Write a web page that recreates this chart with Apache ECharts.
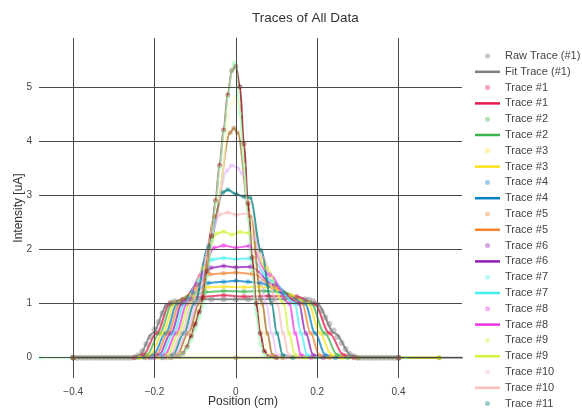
<!DOCTYPE html>
<html>
<head>
<meta charset="utf-8">
<script src="https://cdn.jsdelivr.net/npm/echarts@6/dist/echarts.min.js"></script>
<style>html,body{margin:0;padding:0;background:#fff}#c{width:582px;height:410px}</style>
</head>
<body>
<div id="c"></div>
<script>
// ---- data ----
const xTicks = [-0.4, -0.2, 0, 0.2, 0.4];
const yTicks = [0, 1, 2, 3, 4, 5];

const traceNames = ['Trace #1','Trace #2','Trace #3','Trace #4','Trace #5','Trace #6','Trace #7','Trace #8','Trace #9','Trace #10','Trace #11','Trace #12','Trace #13','Trace #14','Trace #15','Trace #16','Trace #17'];
const traceColors = ['#e6194b','#3cb44b','#ffe119','#0082c8','#f58231','#911eb4','#46f0f0','#f032e6','#d2f53c','#fabebe','#008080','#e6beff','#aa6e28','#fffac8','#800000','#aaffc3','#808000'];

const rawTrace1 = [[-0.40,0],[-0.39,0],[-0.38,0],[-0.37,0],[-0.36,0],[-0.35,0],[-0.34,0],[-0.33,0],[-0.32,0],[-0.31,0],[-0.30,0],[-0.29,0],[-0.28,0],[-0.27,0],[-0.26,0],[-0.25,0.01],[-0.24,0.04],[-0.23,0.12],[-0.22,0.25],[-0.21,0.38],[-0.20,0.52],[-0.19,0.66],[-0.18,0.82],[-0.17,0.96],[-0.16,1.02],[-0.15,1.04],[-0.13,1.06],[-0.11,1.07],[-0.09,1.08],[-0.06,1.08],[-0.03,1.08],[0.0,1.08],[0.03,1.08],[0.06,1.08],[0.09,1.08],[0.12,1.09],[0.15,1.09],[0.17,1.08],[0.18,1.07],[0.19,1.04],[0.20,0.98],[0.21,0.86],[0.22,0.74],[0.23,0.62],[0.24,0.50],[0.25,0.38],[0.26,0.27],[0.27,0.16],[0.28,0.07],[0.29,0.02],[0.30,0],[0.31,0],[0.32,0],[0.33,0],[0.34,0],[0.35,0],[0.36,0],[0.37,0],[0.38,0],[0.39,0],[0.40,0]];
const fitTrace1 = [[-0.40,0],[-0.26,0],[-0.238,0.04],[-0.205,0.45],[-0.168,0.98],[-0.14,1.05],[-0.09,1.08],[0.0,1.08],[0.08,1.08],[0.16,1.09],[0.2,0.99],[0.243,0.45],[0.285,0.04],[0.31,0],[0.56,0]];

const trace01 = [[-0.40,0],[-0.25,0],[-0.228,0.05],[-0.195,0.45],[-0.162,1.0],[-0.13,1.08],[-0.08,1.13],[-0.03,1.15],[0.02,1.13],[0.08,1.14],[0.15,1.13],[0.193,1.0],[0.23,0.45],[0.265,0.05],[0.29,0],[0.40,0]];
const trace02 = [[-0.40,0],[-0.24,0],[-0.219,0.05],[-0.188,0.45],[-0.156,1.0],[-0.12,1.12],[-0.075,1.21],[-0.03,1.23],[0.02,1.22],[0.07,1.23],[0.12,1.2],[0.185,1.0],[0.218,0.45],[0.25,0.05],[0.275,0],[0.40,0]];
const trace03 = [[-0.40,0],[-0.235,0],[-0.211,0.05],[-0.18,0.45],[-0.15,1.0],[-0.11,1.17],[-0.07,1.3],[-0.03,1.31],[0.02,1.3],[0.06,1.31],[0.09,1.29],[0.135,1.15],[0.178,1.0],[0.207,0.45],[0.235,0.05],[0.26,0],[0.50,0]];
const trace04 = [[-0.40,0],[-0.225,0],[-0.203,0.05],[-0.173,0.45],[-0.144,1.0],[-0.105,1.2],[-0.067,1.38],[-0.03,1.40],[0.0,1.42],[0.03,1.40],[0.06,1.38],[0.115,1.19],[0.17,1.0],[0.195,0.45],[0.22,0.05],[0.245,0],[0.40,0]];
const trace05 = [[-0.40,0],[-0.22,0],[-0.196,0.05],[-0.167,0.45],[-0.138,1.0],[-0.1,1.28],[-0.064,1.54],[-0.03,1.56],[0.0,1.57],[0.04,1.55],[0.1,1.28],[0.163,1.0],[0.184,0.45],[0.205,0.05],[0.23,0],[0.40,0]];
const trace06 = [[-0.40,0],[-0.21,0],[-0.189,0.05],[-0.16,0.45],[-0.132,1.0],[-0.096,1.35],[-0.061,1.66],[-0.03,1.69],[0.0,1.67],[0.036,1.68],[0.095,1.34],[0.155,1.0],[0.172,0.45],[0.19,0.05],[0.215,0],[0.40,0]];
const trace07 = [[-0.40,0],[-0.205,0],[-0.182,0.05],[-0.154,0.45],[-0.126,1.0],[-0.092,1.42],[-0.058,1.81],[-0.03,1.84],[0.0,1.82],[0.034,1.83],[0.09,1.41],[0.145,1.0],[0.16,0.45],[0.175,0.05],[0.2,0],[0.40,0]];
const trace08 = [[-0.40,0],[-0.2,0],[-0.175,0.05],[-0.147,0.45],[-0.12,1.0],[-0.087,1.52],[-0.053,2.03],[-0.03,2.07],[0.0,2.03],[0.033,2.06],[0.083,1.53],[0.132,1.0],[0.146,0.45],[0.16,0.05],[0.185,0],[0.40,0]];
const trace09 = [[-0.40,0],[-0.19,0],[-0.168,0.05],[-0.141,0.45],[-0.114,1.0],[-0.08,1.65],[-0.047,2.29],[-0.03,2.33],[-0.01,2.27],[0.01,2.32],[0.031,2.3],[0.075,1.65],[0.118,1.0],[0.131,0.45],[0.145,0.05],[0.17,0],[0.50,0]];
const trace10 = [[-0.40,0],[-0.185,0],[-0.161,0.05],[-0.134,0.45],[-0.108,1.0],[-0.074,1.83],[-0.04,2.64],[-0.02,2.68],[0.0,2.64],[0.032,2.66],[0.067,1.83],[0.102,1.0],[0.116,0.45],[0.13,0.05],[0.155,0],[0.40,0]];
const trace11 = [[-0.40,0],[-0.18,0],[-0.155,0.05],[-0.128,0.45],[-0.102,1.0],[-0.067,2.05],[-0.032,3.05],[-0.02,3.1],[0.0,3.02],[0.02,2.97],[0.035,2.95],[0.062,1.98],[0.088,1.0],[0.101,0.45],[0.115,0.05],[0.14,0],[0.40,0]];
const trace12 = [[-0.40,0],[-0.175,0],[-0.149,0.05],[-0.122,0.45],[-0.096,1.0],[-0.059,2.3],[-0.022,3.45],[-0.01,3.55],[0.005,3.5],[0.015,3.4],[0.045,2.2],[0.075,1.0],[0.088,0.45],[0.102,0.05],[0.125,0],[0.40,0]];
const trace13 = [[-0.40,0],[-0.17,0],[-0.144,0.05],[-0.117,0.45],[-0.09,1.0],[-0.052,2.6],[-0.014,4.15],[-0.005,4.24],[0.004,4.15],[0.035,2.6],[0.065,1.0],[0.077,0.45],[0.09,0.05],[0.115,0],[0.40,0]];
const trace14 = [[-0.40,0],[-0.165,0],[-0.14,0.05],[-0.112,0.45],[-0.085,1.0],[-0.045,2.9],[-0.01,4.7],[-0.002,4.8],[0.006,4.7],[0.03,2.9],[0.057,1.0],[0.068,0.45],[0.08,0.05],[0.105,0],[0.40,0]];
const trace15 = [[-0.40,0],[-0.16,0],[-0.14,0.02],[-0.13,0.08],[-0.12,0.2],[-0.11,0.4],[-0.10,0.62],[-0.09,0.85],[-0.08,1.1],[-0.07,1.6],[-0.06,2.25],[-0.05,2.9],[-0.04,3.55],[-0.03,4.2],[-0.02,4.85],[-0.01,5.3],[0.0,5.38],[0.01,5.0],[0.02,3.95],[0.03,2.85],[0.04,1.85],[0.05,1.0],[0.06,0.45],[0.07,0.12],[0.08,0.02],[0.10,0],[0.40,0]];
const trace16 = [[-0.48,0],[-0.16,0],[-0.14,0.02],[-0.13,0.07],[-0.12,0.17],[-0.11,0.32],[-0.10,0.52],[-0.09,0.74],[-0.08,0.98],[-0.07,1.5],[-0.06,2.15],[-0.05,2.85],[-0.04,3.5],[-0.03,4.15],[-0.02,4.8],[-0.01,5.3],[-0.005,5.45],[0.0,5.35],[0.01,4.5],[0.02,3.55],[0.03,2.55],[0.04,1.6],[0.05,0.8],[0.06,0.25],[0.07,0.05],[0.08,0],[0.42,0]];
const trace17 = [[-0.40,0],[0.0,0],[0.30,0],[0.50,0]];

const traceData = [trace01,trace02,trace03,trace04,trace05,trace06,trace07,trace08,trace09,trace10,trace11,trace12,trace13,trace14,trace15,trace16,trace17];

// ---- chart ----
const FONT = '"Liberation Sans", Arial, sans-serif';
const LINE_ICON = 'path://M0,0H10V1H0Z';
const series = [];
const legendData = [];

// gridlines drawn through the axes' scales
series.push({
  type: 'line', name: '__grid', data: [[0, 0]], symbol: 'none', silent: true, z: 0,
  lineStyle: { opacity: 0 }, animation: false,
  markLine: {
    silent: true, symbol: ['none', 'none'], animation: false,
    label: { show: false },
    lineStyle: { color: '#4a4a4a', width: 1, type: 'solid' },
    emphasis: { disabled: true },
    data: yTicks.map(v => ({ yAxis: v })).concat(xTicks.map(v => ({ xAxis: v })))
  }
});

series.push({
  type: 'scatter', name: 'Raw Trace (#1)', data: rawTrace1, symbolSize: 6, z: 2,
  itemStyle: { color: '#808080', opacity: 0.45 }, animation: false, emphasis: { disabled: true }
});
legendData.push({ name: 'Raw Trace (#1)', icon: 'circle' });
series.push({
  type: 'line', name: 'Fit Trace (#1)', data: fitTrace1, symbol: 'none', smooth: 0.35, smoothMonotone: 'x', z: 2,
  lineStyle: { color: '#808080', width: 2, opacity: 0.85 }, itemStyle: { color: '#808080' }, animation: false, emphasis: { disabled: true }
});
legendData.push({ name: 'Fit Trace (#1)', icon: LINE_ICON });

traceData.forEach((d, i) => {
  const nm = traceNames[i];
  const col = traceColors[i];
  series.push({
    type: 'scatter', name: nm + '|pts', data: d, symbolSize: 5, z: 2,
    itemStyle: { color: col, opacity: 0.4 }, animation: false, emphasis: { disabled: true }
  });
  series.push({
    type: 'line', name: nm + '|fit', data: d, symbol: 'none', smooth: 0.35, smoothMonotone: 'x', z: 2,
    lineStyle: { color: col, width: 2, opacity: 0.75 }, itemStyle: { color: col }, animation: false, emphasis: { disabled: true }
  });
  legendData.push({ name: nm + '|pts', icon: 'circle' }, { name: nm + '|fit', icon: LINE_ICON });
});

const fmt = v => (v < 0 ? '\u2212' + Math.abs(v) : String(v));

const option = {
  backgroundColor: '#ffffff',
  animation: false,
  title: {
    text: 'Traces of All Data', left: 247, top: 6,
    textStyle: { fontFamily: FONT, fontSize: 13.5, fontWeight: 'normal', color: '#333' }
  },
  legend: {
    orient: 'vertical', left: 475, top: 49, height: 2000, padding: 0,
    itemWidth: 25, itemHeight: 5, itemGap: 1.8,
    data: legendData,
    formatter: n => n.replace(/\|.*$/, ''),
    textStyle: { fontFamily: FONT, fontSize: 11, color: '#444', lineHeight: 14 },
    selectedMode: false
  },
  grid: { left: 39, right: 120, top: 38, bottom: 32, containLabel: false, outerBoundsMode: 'none' },
  xAxis: {
    type: 'value', min: -0.484, max: 0.556,
    name: 'Position (cm)', nameLocation: 'middle', nameGap: 18, nameMoveOverlap: false,
    nameTextStyle: { fontFamily: FONT, fontSize: 12, color: '#333', padding: [0, 15, 0, 0] },
    axisLine: { show: false },
    axisTick: { show: true, customValues: xTicks, length: 6, lineStyle: { color: '#555' } },
    axisLabel: { customValues: xTicks, formatter: fmt, fontFamily: FONT, fontSize: 10, color: '#444', margin: 9 },
    splitLine: { show: false }
  },
  yAxis: {
    type: 'value', min: -0.375, max: 5.9,
    name: 'Intensity [uA]', nameLocation: 'middle', nameGap: 14, nameRotate: 90, nameMoveOverlap: false,
    nameTextStyle: { fontFamily: FONT, fontSize: 12, color: '#333' },
    axisLine: { show: true, lineStyle: { color: '#555', width: 1 } },
    axisTick: { show: true, customValues: yTicks, length: 4, lineStyle: { color: '#555' } },
    axisLabel: { customValues: yTicks, formatter: fmt, fontFamily: FONT, fontSize: 10, color: '#444', margin: 7 },
    splitLine: { show: false }
  },
  series: series
};

const chart = echarts.init(document.getElementById('c'), null, { renderer: 'canvas' });
chart.setOption(option);
</script>
</body>
</html>
